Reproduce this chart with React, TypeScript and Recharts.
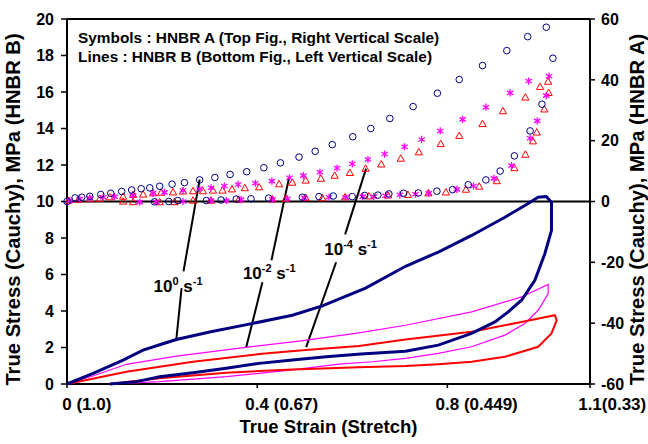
import React from 'react'
import { ScatterChart, Scatter, XAxis, YAxis, ReferenceLine, Label } from 'recharts'

type Pt = [number, number]

const FONT = '"Liberation Sans", Arial, sans-serif'
const NAVY = '#000080'
const MAGENTA = '#ff00ff'
const RED = '#ff0000'

const xTicks = [0, 0.4, 0.8, 1.1]
const xTickLabels = ['0 (1.0)', '0.4 (0.67)', '0.8 (0.449)', '1.1(0.33)']
const leftTicks = [0, 2, 4, 6, 8, 10, 12, 14, 16, 18, 20]
const rightTicks = [-60, -40, -20, 0, 20, 40, 60]

// HNBR A symbols (right scale), loading then unloading
const symRate0: Pt[] = [
  [0, 0], [0.017, 1.2], [0.031, 1.4], [0.048, 1.7], [0.071, 2.3], [0.092, 2.7], [0.115, 3.3],
  [0.136, 3.8], [0.156, 4.2], [0.174, 4.5], [0.195, 5.0], [0.221, 5.7], [0.247, 6.2], [0.279, 7.1],
  [0.311, 7.9], [0.343, 8.9], [0.378, 9.8], [0.414, 11.1], [0.449, 12.7], [0.488, 14.6], [0.522, 16.5],
  [0.558, 18.7], [0.601, 21.3], [0.639, 24.0], [0.679, 27.3], [0.728, 31.2], [0.779, 35.6], [0.825, 40.1],
  [0.874, 44.7], [0.925, 49.6], [0.969, 54.2], [1.008, 57.3], [1.022, 47.1],
  [0.999, 32.0], [0.974, 23.2], [0.941, 15.0], [0.911, 10.0], [0.881, 7.1], [0.844, 5.5], [0.811, 3.9],
  [0.778, 3.4], [0.739, 2.8], [0.708, 2.7], [0.677, 2.5], [0.654, 2.1], [0.626, 2.0], [0.6, 1.6],
  [0.56, 1.8], [0.53, 1.6], [0.495, 1.4], [0.424, 1.1], [0.387, 0.9], [0.356, 0.8], [0.324, 0.5],
  [0.293, 0.3], [0.233, 0.3], [0.214, 0], [0.184, -0.1]
]
const symRate2: Pt[] = [
  [0.006, 0.3], [0.027, 0.8], [0.048, 1.1], [0.076, 1.4], [0.1, 1.6], [0.139, 2.0], [0.181, 2.7],
  [0.205, 3.0], [0.244, 3.6], [0.279, 4.2], [0.303, 4.5], [0.331, 5.1], [0.36, 5.6], [0.396, 6.0],
  [0.431, 6.7], [0.468, 7.8], [0.497, 8.5], [0.532, 9.6], [0.568, 11.0], [0.6, 12.4], [0.633, 13.8],
  [0.668, 15.6], [0.71, 18.0], [0.746, 20.4], [0.785, 23.2], [0.832, 27.0], [0.881, 31.0], [0.932, 35.7],
  [0.971, 39.6], [1.014, 41.2],
  [1.008, 34.8], [0.989, 26.5], [0.974, 20.8], [0.935, 11.8], [0.898, 7.6], [0.855, 5.1], [0.82, 4.0],
  [0.761, 2.7], [0.733, 2.4], [0.7, 2.2], [0.67, 1.9], [0.645, 1.6], [0.622, 1.6], [0.586, 1.4],
  [0.551, 1.4], [0.499, 1.2], [0.464, 0.9], [0.432, 0.7], [0.366, 0.6], [0.335, 0.3], [0.303, 0.3],
  [0.244, 0], [0.188, -0.2], [0.153, -0.2]
]
const symRate4: Pt[] = [
  [0.003, 0.3], [0.024, 0.6], [0.048, 0.8], [0.069, 0.9], [0.09, 1.4], [0.118, 1.6], [0.139, 2.2],
  [0.16, 2.3], [0.181, 2.7], [0.198, 2.9], [0.223, 3.0], [0.244, 3.3], [0.265, 3.4], [0.286, 3.4],
  [0.307, 3.6], [0.327, 3.6], [0.347, 4.0], [0.374, 4.4], [0.404, 4.7], [0.446, 5.7], [0.474, 6.2],
  [0.502, 6.9], [0.534, 7.5], [0.563, 8.5], [0.595, 9.4], [0.628, 10.8], [0.661, 12.2], [0.702, 14.1],
  [0.74, 16.2], [0.786, 18.9], [0.825, 21.6], [0.874, 25.5], [0.917, 29.7], [0.964, 34.2], [0.995, 37.7],
  [1.012, 39.4],
  [1.013, 35.7], [1.004, 30.3], [0.988, 22.7], [0.98, 19.8], [0.964, 15.4], [0.941, 11.0], [0.904, 6.7],
  [0.867, 4.9], [0.839, 3.9], [0.797, 3.0], [0.76, 2.7], [0.717, 2.2], [0.675, 2.0], [0.635, 1.7],
  [0.585, 1.4], [0.537, 1.1], [0.502, 1.2], [0.46, 0.9], [0.432, 0.7], [0.361, 0.6], [0.303, 0.3],
  [0.265, 0.3], [0.226, -0.2], [0.195, -0.2], [0.139, -0.2], [0.118, 0]
]

// HNBR B lines (left scale), one loop per rate
const lineRate0: Pt[] = [
  [0, 0], [0.055, 0.58], [0.118, 1.31], [0.16, 1.86], [0.195, 2.15], [0.23, 2.44], [0.3, 2.85],
  [0.383, 3.28], [0.474, 3.77], [0.537, 4.28], [0.628, 5.25], [0.712, 6.45], [0.781, 7.23], [0.851, 8.14],
  [0.921, 9.14], [0.963, 9.78], [0.991, 10.23], [1.008, 10.27], [1.019, 9.96],
  [1.019, 8.42], [1.005, 7.14], [0.984, 5.68], [0.956, 4.59], [0.928, 3.95], [0.9, 3.4], [0.851, 2.77],
  [0.781, 2.13], [0.712, 1.8], [0.618, 1.64], [0.545, 1.49], [0.474, 1.31], [0.404, 1.13], [0.335, 0.86],
  [0.265, 0.62], [0.195, 0.4], [0.146, 0.13], [0.09, 0]
]
const lineRate2: Pt[] = [
  [0, 0], [0.054, 0.44], [0.125, 1.08], [0.23, 1.53], [0.376, 2.01], [0.488, 2.35], [0.614, 2.8],
  [0.712, 3.22], [0.851, 3.95], [0.956, 4.77], [1.012, 5.46],
  [1.012, 4.96], [0.991, 4.04], [0.963, 3.32], [0.921, 2.68], [0.851, 2.04], [0.781, 1.68], [0.712, 1.4],
  [0.642, 1.22], [0.572, 1.09], [0.474, 0.77], [0.335, 0.4], [0.195, 0.13], [0.09, 0]
]
const lineRate4: Pt[] = [
  [0, 0], [0.125, 0.67], [0.265, 1.22], [0.404, 1.64], [0.502, 1.86], [0.614, 2.08], [0.712, 2.44],
  [0.851, 2.86], [0.956, 3.4], [1.026, 3.77], [1.03, 3.5],
  [1.019, 2.77], [0.991, 2.04], [0.921, 1.49], [0.851, 1.22], [0.781, 1.08], [0.712, 0.98], [0.614, 0.92],
  [0.474, 0.8], [0.335, 0.62], [0.195, 0.31], [0.09, 0]
]

// rate annotations (left scale), text baseline start
const rateLabels = [
  { x: 0.182, y: 5.05, exp: '0' },
  { x: 0.37, y: 5.76, exp: '-2' },
  { x: 0.541, y: 7.08, exp: '-4' }
]
const leaders: [Pt, Pt][] = [
  [[0.279, 11.2], [0.245, 6.17]], [[0.241, 5.25], [0.23, 2.46]],
  [[0.467, 11.31], [0.43, 6.78]], [[0.411, 5.57], [0.377, 2.02]],
  [[0.629, 11.8], [0.585, 8.2]], [[0.566, 6.67], [0.503, 2.02]]
]

const legendLines = [
  'Symbols : HNBR A (Top Fig., Right Vertical Scale)',
  'Lines : HNBR B (Bottom Fig., Left Vertical Scale)'
]

const toPts = (arr: Pt[]) => arr.map(([x, y]) => ({ x, y }))

const NoShape = () => <g />

const OpenCircle = (p: any) => (
  <circle cx={p.cx} cy={p.cy} r={3.3} fill="none" stroke={NAVY} strokeWidth={1} />
)

const OpenTriangle = (p: any) => (
  <path
    d={`M${p.cx},${p.cy - 3.8}L${p.cx + 3.6},${p.cy + 2.6}L${p.cx - 3.6},${p.cy + 2.6}Z`}
    fill="none"
    stroke={RED}
    strokeWidth={1}
  />
)

const Asterisk = (p: any) => {
  const { cx, cy } = p
  return (
    <path
      d={`M${cx},${cy - 3.6}V${cy + 3.6}M${cx - 3.2},${cy - 2}L${cx + 3.2},${cy + 2}M${cx - 3.2},${cy + 2}L${cx + 3.2},${cy - 2}`}
      stroke={MAGENTA}
      strokeWidth={1.3}
      fill="none"
    />
  )
}

const RateText = (p: any) => {
  const { cx, cy, payload } = p
  return (
    <text x={cx} y={cy} fontFamily={FONT} fontWeight="bold" fontSize={17} fill="#000">
      10
      <tspan dy={-7} fontSize={11}>{payload.exp}</tspan>
      <tspan dy={7} fontSize={17}> s</tspan>
      <tspan dy={-7} fontSize={11}>-1</tspan>
    </text>
  )
}

const X_TICK_FONT = 17

const XTick = (p: any) => {
  const { x, y, payload } = p
  const i = xTicks.indexOf(payload.value)
  const label = i >= 0 ? xTickLabels[i] : String(payload.value)
  // the number part sits centred on the tick, the stretch follows it
  const num = label.split(/[ (]/)[0]
  const w = [...num].reduce((s, c) => s + (c === '.' ? 0.278 : 0.556), 0) * X_TICK_FONT
  return (
    <text x={x - w / 2} y={y} dy="0.71em" fontFamily={FONT} fontWeight="bold" fontSize={X_TICK_FONT} fill="#000">
      {label}
    </text>
  )
}

const tickStyle = { fill: '#000', fontSize: 16, fontWeight: 'bold', fontFamily: FONT }
const titleStyle = { fill: '#000', fontSize: 18.5, fontWeight: 'bold', fontFamily: FONT }
const yTitleStyle = { ...titleStyle, fontSize: 20.2 }

export default function App() {
  return (
    <div style={{ position: 'absolute', left: 0, top: 0, width: 648, height: 444, background: '#fff' }}>
      <ScatterChart width={648} height={444} margin={{ top: 19, right: 0, bottom: 0, left: 0 }}>
        <XAxis
          type="number"
          dataKey="x"
          domain={[0, 1.1]}
          ticks={xTicks}
          interval={0}
          height={60}
          tick={<XTick />}
          tickSize={4}
          tickMargin={10}
          axisLine={{ stroke: '#000', strokeWidth: 2 }}
          tickLine={{ stroke: '#000', strokeWidth: 1.5 }}
        >
          <Label value="True Strain (Stretch)" position="insideBottom" offset={11} style={titleStyle} />
        </XAxis>
        <YAxis
          yAxisId="left"
          type="number"
          dataKey="y"
          domain={[0, 20]}
          ticks={leftTicks}
          interval={0}
          width={67}
          tick={tickStyle}
          tickSize={6}
          tickMargin={7}
          axisLine={{ stroke: '#000', strokeWidth: 2 }}
          tickLine={{ stroke: '#000', strokeWidth: 1.5 }}
        >
          <Label value="True Stress (Cauchy), MPa (HNBR B)" angle={-90} position="center" dx={-21} dy={8} style={yTitleStyle} />
        </YAxis>
        <YAxis
          yAxisId="right"
          orientation="right"
          type="number"
          dataKey="y"
          domain={[-60, 60]}
          ticks={rightTicks}
          interval={0}
          width={58}
          tick={{ ...tickStyle, textAnchor: 'start' }}
          tickSize={5}
          tickMargin={6}
          axisLine={{ stroke: '#000', strokeWidth: 2 }}
          tickLine={{ stroke: '#000', strokeWidth: 1.5 }}
        >
          <Label value="True Stress (Cauchy), MPa (HNBR A)" angle={-90} position="center" dx={18} dy={8} style={yTitleStyle} />
        </YAxis>

        <ReferenceLine yAxisId="left" y={20} stroke="#000" strokeWidth={2} />
        <ReferenceLine yAxisId="right" y={0} stroke="#000" strokeWidth={2} />

        <Scatter yAxisId="left" data={toPts(lineRate2)} shape={NoShape} line={{ stroke: MAGENTA, strokeWidth: 1.2 }} isAnimationActive={false} />
        <Scatter yAxisId="left" data={toPts(lineRate4)} shape={NoShape} line={{ stroke: RED, strokeWidth: 2 }} isAnimationActive={false} />
        <Scatter yAxisId="left" data={toPts(lineRate0)} shape={NoShape} line={{ stroke: NAVY, strokeWidth: 3 }} isAnimationActive={false} />

        <Scatter yAxisId="right" data={toPts(symRate4)} shape={OpenTriangle} isAnimationActive={false} />
        <Scatter yAxisId="right" data={toPts(symRate2)} shape={Asterisk} isAnimationActive={false} />
        <Scatter yAxisId="right" data={toPts(symRate0)} shape={OpenCircle} isAnimationActive={false} />

        {leaders.map(([a, b], i) => (
          <ReferenceLine
            key={i}
            yAxisId="left"
            segment={[{ x: a[0], y: a[1] }, { x: b[0], y: b[1] }]}
            stroke="#000"
            strokeWidth={2}
          />
        ))}
        <Scatter yAxisId="left" data={rateLabels} shape={RateText} isAnimationActive={false} />
      </ScatterChart>
      {legendLines.map((t, i) => (
        <div
          key={i}
          style={{
            position: 'absolute',
            left: 78,
            top: 29.3 + i * 18.7,
            fontFamily: FONT,
            fontWeight: 'bold',
            fontSize: 15.4,
            lineHeight: '18.7px',
            whiteSpace: 'nowrap',
            color: '#000'
          }}
        >
          {t}
        </div>
      ))}
    </div>
  )
}
